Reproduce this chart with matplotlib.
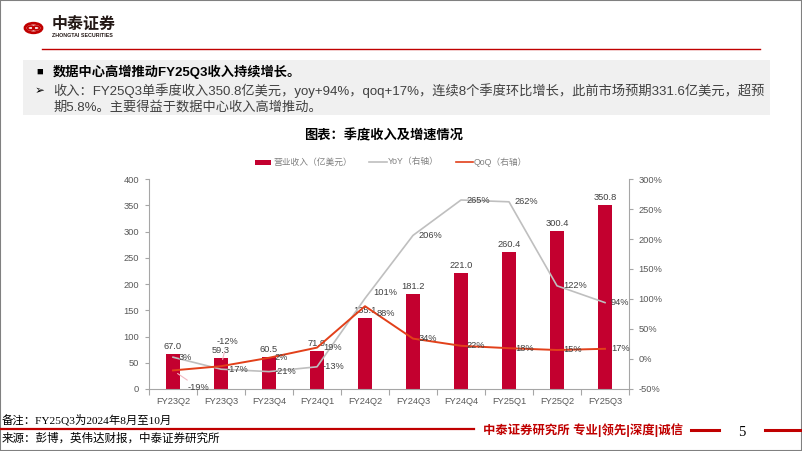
import matplotlib
matplotlib.use("Agg")
import matplotlib.pyplot as plt
from matplotlib.lines import Line2D
from matplotlib.patches import Rectangle, Circle

plt.rcParams["font.family"] = ["Liberation Sans", "Noto Sans CJK SC", "DejaVu Sans"]

# ---- data ----
quarters = ["FY23Q2", "FY23Q3", "FY23Q4", "FY24Q1", "FY24Q2",
            "FY24Q3", "FY24Q4", "FY25Q1", "FY25Q2", "FY25Q3"]
revenue = [67.0, 59.3, 60.5, 71.9, 135.1, 181.2, 221.0, 260.4, 300.4, 350.8]
yoy = [3, -17, -21, -13, 101, 206, 265, 262, 122, 94]
qoq = [-19, -12, 2, 19, 88, 34, 22, 18, 15, 17]
left_ticks = [0, 50, 100, 150, 200, 250, 300, 350, 400]
right_ticks = [-50, 0, 50, 100, 150, 200, 250, 300]

W, H = 802, 451
BAR = "#C3002F"
YOY_C = "#BFBFBF"
QOQ_C = "#E2401A"
TXT = "#404040"
RED = "#C00000"


def fx(px):
    return px / W


def fy(py):
    return 1 - py / H


fig = plt.figure(figsize=(W / 100, H / 100), dpi=100)

# ---- slide frame, header ----
fig.patches.append(Rectangle((0, 0), 1, 1, transform=fig.transFigure,
                             fill=False, edgecolor="#808080", lw=1.5))
fig.patches.append(Circle((fx(33.5), fy(28)), 8.5 / W, transform=fig.transFigure,
                          fill=False, edgecolor=RED, lw=2.0))
fig.patches.append(Circle((fx(30.8), fy(28)), 3.3 / W, transform=fig.transFigure,
                          fill=False, edgecolor=RED, lw=1.4))
fig.patches.append(Circle((fx(36.2), fy(28)), 3.3 / W, transform=fig.transFigure,
                          fill=False, edgecolor=RED, lw=1.4))
fig.text(fx(52), fy(24.5), "中泰证券", fontsize=11.5, fontweight="bold",
         color="#231815", va="center", ha="left")
fig.text(fx(52), fy(35.5), "ZHONGTAI SECURITIES", fontsize=3.8,
         fontweight="bold", color="#231815", va="center", ha="left")
fig.add_artist(Line2D([fx(42), fx(760)], [fy(48.5), fy(48.5)], color=RED, lw=1.0))

fig.patches.append(Rectangle((fx(23), fy(115)), fx(770) - fx(23), fy(60) - fy(115),
                             transform=fig.transFigure, facecolor="#F0F0F0",
                             edgecolor="none"))
fig.text(fx(36), fy(72), "■", fontsize=8, color="#000000", va="center", ha="left")
fig.text(fx(53), fy(72), "数据中心高增推动FY25Q3收入持续增长。", fontsize=9.5,
         fontweight="bold", color="#000000", va="center", ha="left")
fig.text(fx(35), fy(91), "➢", fontsize=8.5, color="#000000", va="center", ha="left",
         family=["DejaVu Sans"])
fig.text(fx(53), fy(91),
         "收入：FY25Q3单季度收入350.8亿美元，yoy+94%，qoq+17%，连续8个季度环比增长，此前市场预期331.6亿美元，超预",
         fontsize=9.5, color=TXT, va="center", ha="left")
fig.text(fx(53), fy(107), "期5.8%。主要得益于数据中心收入高增推动。",
         fontsize=9.5, color=TXT, va="center", ha="left")

# ---- chart title and legend ----
fig.text(fx(384), fy(136), "图表：季度收入及增速情况", fontsize=9.5,
         fontweight="bold", color="#000000", va="center", ha="center")
leg_y = fy(162)
fig.patches.append(Rectangle((fx(255), fy(165)), fx(16), 5 / H,
                             transform=fig.transFigure, facecolor=BAR, edgecolor="none"))
fig.text(fx(273), leg_y, "营业收入（亿美元）", fontsize=6.3, color="#7F7F7F",
         va="center", ha="left")
fig.add_artist(Line2D([fx(369), fx(387)], [leg_y, leg_y], color=YOY_C, lw=1.2))
fig.text(fx(388), leg_y, "YoY（右轴）", fontsize=6.3, color="#7F7F7F",
         va="center", ha="left")
fig.add_artist(Line2D([fx(456), fx(473)], [leg_y, leg_y], color=QOQ_C, lw=1.2))
fig.text(fx(474), leg_y, "QoQ（右轴）", fontsize=6.3, color="#7F7F7F",
         va="center", ha="left")

# ---- axes ----
ax = fig.add_axes([fx(149), fy(389), fx(629) - fx(149), fy(179) - fy(389)])
x = list(range(len(quarters)))
ax.bar(x, revenue, width=0.31, color=BAR, zorder=2)
ax.set_xlim(-0.5, len(quarters) - 0.5)
ax.set_ylim(0, 400)
ax.set_yticks(left_ticks)
ax.set_xticks(x)
ax.set_xticklabels(quarters)
ax.set_xticks([i + 0.5 for i in range(-1, len(quarters))], minor=True)
ax.tick_params(axis="x", which="major", length=0, pad=6, labelsize=6.7, labelcolor="#595959")
ax.tick_params(axis="x", which="minor", length=4, color="#A6A6A6", width=0.8)
ax.tick_params(axis="y", length=3, color="#A6A6A6", width=0.8, pad=4,
               labelsize=6.7, labelcolor="#595959")
for s in ["top", "right"]:
    ax.spines[s].set_visible(False)
for s in ["left", "bottom"]:
    ax.spines[s].set_color("#A6A6A6")
    ax.spines[s].set_linewidth(0.8)
ax.set_facecolor("none")

for xi, v in zip(x, revenue):
    ax.annotate(f"{v:.1f}", (xi, v), xytext=(0, 3), textcoords="offset pixels",
                ha="center", va="bottom", fontsize=6.7, color=TXT)

ax2 = ax.twinx()
ax2.set_ylim(-50, 300)
ax2.set_yticks(right_ticks)
ax2.set_yticklabels([f"{t}%" for t in right_ticks])
ax2.tick_params(axis="y", length=3, color="#A6A6A6", width=0.8, pad=4,
                labelsize=6.7, labelcolor="#595959")
for s in ["top", "left", "bottom"]:
    ax2.spines[s].set_visible(False)
ax2.spines["right"].set_color("#A6A6A6")
ax2.spines["right"].set_linewidth(0.8)

ax2.plot(x, yoy, color=YOY_C, lw=1.2, zorder=3)
ax2.plot(x, qoq, color=QOQ_C, lw=1.4, zorder=4)

yoy_off = {4: (8, 6)}
for xi, v in zip(x, yoy):
    dx, dy = yoy_off.get(xi, (6, 0))
    ax2.annotate(f"{v}%", (xi, v), xytext=(dx, dy), textcoords="offset pixels",
                 ha="left", va="center", fontsize=6.7, color=TXT, zorder=5)

qoq_off = {4: (12, -7)}
for xi, v in zip(x, qoq):
    if xi == 0:
        ax2.annotate(f"{v}%", (xi, v), xytext=(25, -17), textcoords="offset pixels",
                     ha="center", va="center", fontsize=6.7, color=TXT, zorder=5,
                     arrowprops=dict(arrowstyle="-", color="#F2B8C2", lw=0.8,
                                     shrinkA=0, shrinkB=4))
    elif xi == 1:
        ax2.annotate(f"{v}%", (xi, v), xytext=(6, 25), textcoords="offset pixels",
                     ha="center", va="center", fontsize=6.7, color=TXT, zorder=5,
                     arrowprops=dict(arrowstyle="-", color="#F2B8C2", lw=0.8,
                                     shrinkA=3, shrinkB=5))
    else:
        dx, dy = qoq_off.get(xi, (6, 0))
        ax2.annotate(f"{v}%", (xi, v), xytext=(dx, dy), textcoords="offset pixels",
                     ha="left", va="center", fontsize=6.7, color=TXT, zorder=5)

# ---- footer ----
serif_cjk = ["Liberation Serif", "Noto Sans CJK SC"]
fig.text(fx(2), fy(420), "备注：FY25Q3为2024年8月至10月", fontsize=8.2,
         color="#000000", va="center", ha="left", family=serif_cjk)
fig.add_artist(Line2D([0, fx(474)], [fy(429), fy(429)], color=RED, lw=1.6))
fig.text(fx(483), fy(430), "中泰证券研究所 专业|领先|深度|诚信", fontsize=8.9,
         fontweight="bold", color=RED, va="center", ha="left")
fig.add_artist(Line2D([fx(691), fx(719)], [fy(430), fy(430)], color=RED, lw=2.2))
fig.text(fx(742), fy(432), "5", fontsize=10.5, color="#000000", va="center",
         ha="center", family=["Liberation Serif"])
fig.add_artist(Line2D([fx(765), 1], [fy(430), fy(430)], color=RED, lw=2.2))
fig.text(fx(2), fy(438.5), "来源：彭博，英伟达财报，中泰证券研究所", fontsize=8.3,
         color="#000000", va="center", ha="left", family=serif_cjk)

fig.savefig("out.png", dpi=100)
